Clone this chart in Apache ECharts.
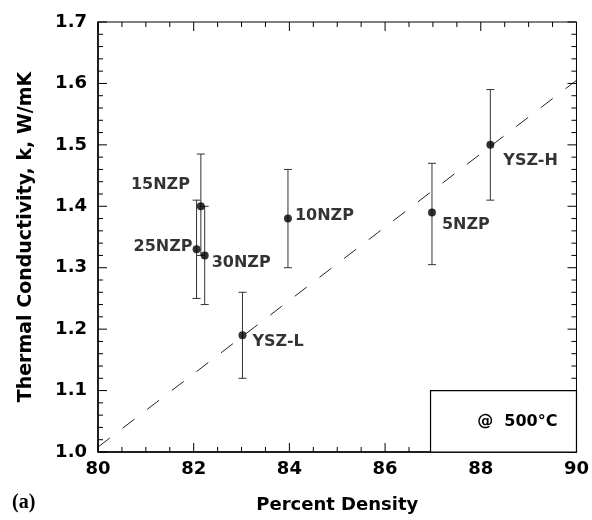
<!DOCTYPE html>
<html>
<head>
<meta charset="utf-8">
<script src="https://cdn.jsdelivr.net/npm/echarts@6/dist/echarts.min.js"></script>
<style>html,body{margin:0;padding:0;background:#fff;}#c{width:592px;height:520px;background:#fff;}</style>
</head>
<body>
<div id="c"></div>
<script>
// ---- data ----
const sampleNames = ['15NZP', '25NZP', '30NZP', '10NZP', '5NZP', 'YSZ-H', 'YSZ-L'];
const densities = [82.15, 82.06, 82.23, 83.97, 86.98, 88.2, 83.02];
const conductivities = [1.40, 1.33, 1.32, 1.38, 1.39, 1.50, 1.19];
const errLow = [1.32, 1.25, 1.24, 1.30, 1.305, 1.41, 1.12];
const errHigh = [1.485, 1.41, 1.40, 1.46, 1.47, 1.59, 1.26];
const fitX = [80, 90];
const fitY = [1.008, 1.605];
const insetX = [86.95, 90];
const insetY = [1.0, 1.1];
const insetText = '@  500°C';
const xTitle = 'Percent Density';
const yTitle = 'Thermal Conductivity, k, W/mK';
const panelTag = '(a)';
const xMajorTicks = [80, 82, 84, 86, 88, 90];
const yMajorTicks = [1.0, 1.1, 1.2, 1.3, 1.4, 1.5, 1.6, 1.7];
const xMinorPerMajor = 4;   // minor ticks every 0.5
const yMinorPerMajor = 5;   // minor ticks every 0.02

// ---- label placement (style) ----
const labelPlace = {
  '15NZP': { position: 'left', offset: [-2, -21] },
  '25NZP': { position: 'left', offset: [5, -2] },
  '30NZP': { position: 'right', offset: [-2, 7] },
  '10NZP': { position: 'right', offset: [-2, -3] },
  '5NZP': { position: 'right', offset: [1, 12] },
  'YSZ-H': { position: 'right', offset: [4, 16] },
  'YSZ-L': { position: 'right', offset: [1, 7] }
};

// tick lists: majors plus their subdivisions
function withMinor(majors, n) {
  const out = [];
  for (let i = 0; i < majors.length; i++) {
    out.push([majors[i], 1]);
    if (i < majors.length - 1) {
      const step = (majors[i + 1] - majors[i]) / n;
      for (let k = 1; k < n; k++) out.push([+(majors[i] + k * step).toFixed(6), 0]);
    }
  }
  return out;
}
const xTicks = withMinor(xMajorTicks, xMinorPerMajor);
const yTicks = withMinor(yMajorTicks, yMinorPerMajor);
const X0 = xMajorTicks[0], X1 = xMajorTicks[xMajorTicks.length - 1];
const Y0 = yMajorTicks[0], Y1 = yMajorTicks[yMajorTicks.length - 1];

const FONT = 'DejaVu Sans';
const chart = echarts.init(document.getElementById('c'), null, { renderer: 'canvas' });

function tickLine(x1, y1, x2, y2) {
  return { type: 'line', shape: { x1: x1, y1: y1, x2: x2, y2: y2 }, style: { stroke: '#000', lineWidth: 1 } };
}

const option = {
  animation: false,
  grid: { left: 98, right: 15, top: 22, bottom: 68, show: true, borderColor: '#000', borderWidth: 1, backgroundColor: 'transparent' },
  xAxis: {
    type: 'value', min: X0, max: X1, interval: 2, position: 'bottom',
    splitLine: { show: false },
    axisTick: { show: false },
    axisLine: { show: true, onZero: false, lineStyle: { color: '#000', width: 1.5 } },
    axisLabel: { show: true, margin: 8, color: '#000', fontFamily: FONT, fontWeight: 'bold', fontSize: 18 },
    name: xTitle, nameLocation: 'middle', nameGap: 44,
    nameTextStyle: { color: '#000', fontFamily: FONT, fontWeight: 'bold', fontSize: 18 }
  },
  yAxis: {
    type: 'value', min: Y0, max: Y1, interval: 0.1, position: 'left',
    splitLine: { show: false },
    axisTick: { show: false },
    axisLine: { show: true, onZero: false, lineStyle: { color: '#000', width: 1.5 } },
    axisLabel: { show: true, margin: 11, color: '#000', fontFamily: FONT, fontWeight: 'bold', fontSize: 18,
      formatter: v => v.toFixed(1) },
    name: yTitle, nameLocation: 'middle', nameGap: 62, nameRotate: 90,
    nameTextStyle: { color: '#000', fontFamily: FONT, fontWeight: 'bold', fontSize: 19 }
  },
  graphic: [
    { type: 'text', left: 12, top: 493, style: { text: panelTag, font: 'bold 20px "Liberation Serif"', fill: '#000' } }
  ],
  series: [
    {
      type: 'line', z: 2,
      data: fitX.map((x, i) => [x, fitY[i]]),
      showSymbol: false, symbol: 'none',
      lineStyle: { color: '#222', width: 1, type: [15, 16] }
    },
    {
      type: 'custom', z: 3,
      data: densities.map((d, i) => [d, errLow[i], errHigh[i]]),
      encode: { x: 0, y: [1, 2] },
      renderItem: function (params, api) {
        const x = api.value(0);
        const lo = api.coord([x, api.value(1)]);
        const hi = api.coord([x, api.value(2)]);
        const hw = 4;
        return {
          type: 'group', children: [
            { type: 'line', shape: { x1: lo[0], y1: lo[1], x2: hi[0], y2: hi[1] }, style: { stroke: '#333', lineWidth: 1 } },
            { type: 'line', shape: { x1: lo[0] - hw, y1: lo[1], x2: lo[0] + hw, y2: lo[1] }, style: { stroke: '#333', lineWidth: 1 } },
            { type: 'line', shape: { x1: hi[0] - hw, y1: hi[1], x2: hi[0] + hw, y2: hi[1] }, style: { stroke: '#333', lineWidth: 1 } }
          ]
        };
      }
    },
    {
      type: 'scatter', z: 4,
      symbol: 'circle', symbolSize: 8,
      itemStyle: { color: '#000' },
      data: densities.map((d, i) => ({
        name: sampleNames[i],
        value: [d, conductivities[i]],
        label: {
          show: true,
          position: labelPlace[sampleNames[i]].position,
          offset: labelPlace[sampleNames[i]].offset,
          formatter: '{b}',
          color: '#000', fontFamily: FONT, fontWeight: 'bold', fontSize: 16
        }
      }))
    },
    { // x ticks, bottom and top, pointing inward
      type: 'custom', z: 10, clip: false,
      data: xTicks.map(t => [t[0], Y0, t[1]]),
      encode: { x: 0, y: 1 },
      renderItem: function (params, api) {
        const b = api.coord([api.value(0), Y0]);
        const t = api.coord([api.value(0), Y1]);
        const len = api.value(2) > 0.5 ? 9 : 5;
        return { type: 'group', children: [
          tickLine(b[0], b[1], b[0], b[1] - len),
          tickLine(t[0], t[1], t[0], t[1] + len)
        ] };
      }
    },
    { // y ticks, left and right, pointing inward
      type: 'custom', z: 10, clip: false,
      data: yTicks.map(t => [X0, t[0], t[1]]),
      encode: { x: 0, y: 1 },
      renderItem: function (params, api) {
        const l = api.coord([X0, api.value(1)]);
        const r = api.coord([X1, api.value(1)]);
        const len = api.value(2) > 0.5 ? 9 : 5;
        return { type: 'group', children: [
          tickLine(l[0], l[1], l[0] + len, l[1]),
          tickLine(r[0], r[1], r[0] - len, r[1])
        ] };
      }
    },
    { // inset annotation box, drawn over the ticks it covers
      type: 'custom', z: 11, clip: false,
      data: [[insetX[0], insetY[0], insetX[1], insetY[1]]],
      encode: { x: [0, 2], y: [1, 3] },
      renderItem: function (params, api) {
        const p0 = api.coord([api.value(0), api.value(3)]);
        const p1 = api.coord([api.value(2), api.value(1)]);
        return {
          type: 'group', children: [
            { type: 'rect', shape: { x: p0[0], y: p0[1], width: p1[0] - p0[0], height: p1[1] - p0[1] },
              style: { fill: '#fff', stroke: '#000', lineWidth: 1.2 } },
            { type: 'text', style: { x: p1[0] - 19, y: (p0[1] + p1[1]) / 2 + 1, text: insetText,
                align: 'right', verticalAlign: 'middle', fill: '#000',
                font: 'bold 16px "DejaVu Sans"' } }
          ]
        };
      }
    }
  ]
};
chart.setOption(option);
</script>
</body>
</html>
